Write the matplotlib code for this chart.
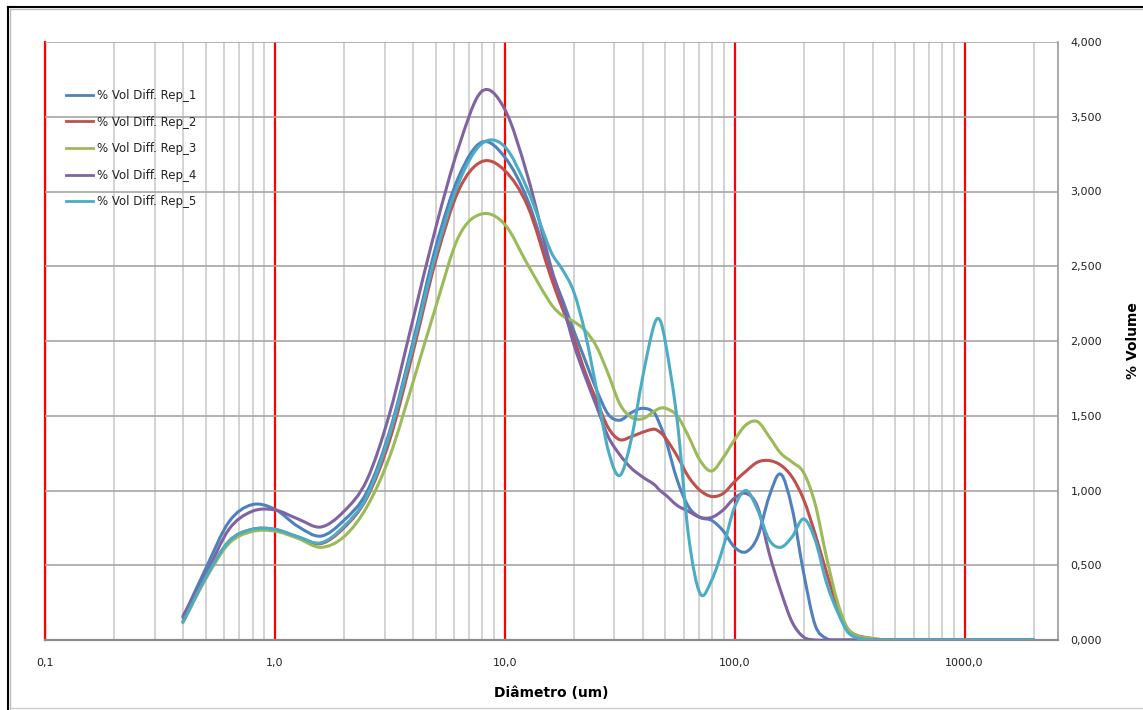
import numpy as np
import matplotlib
matplotlib.use("Agg")
import matplotlib.pyplot as plt
from matplotlib.ticker import FixedLocator, FuncFormatter, NullFormatter, LogLocator
from matplotlib.lines import Line2D
from matplotlib.path import Path
from matplotlib.patches import PathPatch

# particle size classes (um)
diametro = [0.398, 0.501, 0.631, 0.794, 1.0, 1.259, 1.585, 1.995, 2.512, 3.162,
            3.981, 5.012, 6.310, 7.943, 10.0, 12.59, 15.85, 17.78, 19.95,
            22.39, 25.12, 28.18, 31.62, 35.48, 39.81, 44.67, 47.32, 50.12, 56.23,
            63.10, 70.79, 79.43, 89.13, 100.0, 112.2, 125.9, 141.3, 158.5, 177.8,
            199.5, 223.9, 251.2, 281.8, 316.2, 398.1, 501.2, 631.0, 1000.0, 1995.0]

rep_1 = [0.15, 0.48, 0.79, 0.905, 0.875, 0.76, 0.695, 0.80, 0.99, 1.40,
         1.99, 2.63, 3.10, 3.33, 3.23, 2.94, 2.47, 2.28, 2.07,
         1.87, 1.67, 1.51, 1.47, 1.52, 1.55, 1.52, 1.44, 1.34, 1.07,
         0.89, 0.82, 0.80, 0.73, 0.62, 0.59, 0.69, 0.96, 1.11, 0.88,
         0.45, 0.10, 0.01, 0.0, 0.0, 0.0, 0.0, 0.0, 0.0, 0.0]

rep_2 = [0.125, 0.42, 0.66, 0.74, 0.74, 0.69, 0.645, 0.75, 0.95, 1.34,
         1.92, 2.54, 3.01, 3.20, 3.14, 2.90, 2.43, 2.22, 2.02,
         1.79, 1.60, 1.42, 1.34, 1.36, 1.39, 1.41, 1.39, 1.35, 1.23,
         1.09, 1.00, 0.96, 0.98, 1.06, 1.13, 1.19, 1.20, 1.17, 1.09,
         0.94, 0.71, 0.45, 0.21, 0.06, 0.01, 0.0, 0.0, 0.0, 0.0]

rep_3 = [0.115, 0.41, 0.645, 0.725, 0.728, 0.68, 0.62, 0.69, 0.89, 1.23,
         1.72, 2.23, 2.70, 2.85, 2.78, 2.51, 2.25, 2.17, 2.13,
         2.07, 1.96, 1.78, 1.58, 1.49, 1.48, 1.53, 1.55, 1.55, 1.50,
         1.36, 1.20, 1.13, 1.22, 1.34, 1.44, 1.46, 1.36, 1.25, 1.19,
         1.12, 0.91, 0.55, 0.24, 0.06, 0.01, 0.0, 0.0, 0.0, 0.0]

rep_4 = [0.16, 0.44, 0.74, 0.86, 0.87, 0.81, 0.756, 0.86, 1.07, 1.52,
         2.14, 2.76, 3.30, 3.67, 3.55, 3.10, 2.50, 2.26, 1.98,
         1.76, 1.56, 1.36, 1.24, 1.15, 1.09, 1.04, 1.00, 0.97, 0.90,
         0.86, 0.82, 0.82, 0.87, 0.95, 0.98, 0.89, 0.58, 0.33, 0.12,
         0.02, 0.0, 0.0, 0.0, 0.0, 0.0, 0.0, 0.0, 0.0, 0.0]

rep_5 = [0.12, 0.42, 0.66, 0.74, 0.74, 0.69, 0.65, 0.76, 0.96, 1.38,
         1.96, 2.58, 3.06, 3.32, 3.30, 3.01, 2.60, 2.48, 2.33,
         2.05, 1.67, 1.27, 1.10, 1.34, 1.76, 2.11, 2.14, 1.98, 1.47,
         0.69, 0.31, 0.40, 0.62, 0.89, 1.00, 0.87, 0.67, 0.62, 0.69,
         0.81, 0.67, 0.38, 0.18, 0.04, 0.0, 0.0, 0.0, 0.0, 0.0]

series = [rep_1, rep_2, rep_3, rep_4, rep_5]
nomes = ["% Vol Diff. Rep_1", "% Vol Diff. Rep_2", "% Vol Diff. Rep_3",
         "% Vol Diff. Rep_4", "% Vol Diff. Rep_5"]
cores = ["#4F81BD", "#C0504D", "#9BBB59", "#8064A2", "#4BACC6"]

decadas = [0.1, 1, 10, 100, 1000]
rotulos_x = ["0,1", "1,0", "10,0", "100,0", "1000,0"]


def linha_suave(xs, ys):
    # smoothed line through the points: cubic Bezier segments in log-x space
    u = np.log10(xs)
    y = np.asarray(ys, dtype=float)
    n = len(u)
    m = np.zeros(n)
    for i in range(n):
        a, b = max(i - 1, 0), min(i + 1, n - 1)
        m[i] = (y[b] - y[a]) / (u[b] - u[a])
    verts = [(xs[0], y[0])]
    codes = [Path.MOVETO]
    for i in range(n - 1):
        h = u[i + 1] - u[i]
        verts += [(10 ** (u[i] + h / 3), y[i] + m[i] * h / 3),
                  (10 ** (u[i + 1] - h / 3), y[i + 1] - m[i + 1] * h / 3),
                  (xs[i + 1], y[i + 1])]
        codes += [Path.CURVE4] * 3
    return Path(verts, codes)


fig = plt.figure(figsize=(11.43, 7.10), dpi=100)
ax = fig.add_axes([45 / 1143, 1 - 640 / 710, (1058 - 45) / 1143, (640 - 42) / 710])

handles = []
for ys, nome, cor in zip(series, nomes, cores):
    ax.add_patch(PathPatch(linha_suave(diametro, ys), fill=False, edgecolor=cor,
                           lw=2.2, joinstyle="round", capstyle="round", zorder=3))
    handles.append(Line2D([], [], color=cor, lw=2.0, label=nome))

ax.set_xscale("log")
ax.set_xlim(0.1, 2550)
ax.set_ylim(0, 4)

ax.xaxis.set_major_locator(FixedLocator(decadas))
ax.xaxis.set_major_formatter(FuncFormatter(lambda v, p: rotulos_x[decadas.index(v)] if v in decadas else ""))
ax.xaxis.set_minor_locator(LogLocator(base=10, subs=range(2, 10), numticks=20))
ax.xaxis.set_minor_formatter(NullFormatter())

ax.set_yticks([i * 0.5 for i in range(9)])
ax.yaxis.set_major_formatter(FuncFormatter(lambda v, p: f"{v:.3f}".replace(".", ",")))
ax.yaxis.tick_right()
ax.yaxis.set_label_position("right")

ax.tick_params(axis="both", which="both", length=0, labelsize=8, labelcolor="#222222")
ax.tick_params(axis="x", pad=13)
ax.tick_params(axis="y", pad=9)

# grid: red decades, light grey sub-divisions, grey horizontal
ax.grid(which="major", axis="x", color="#FF0000", lw=1.6, zorder=1)
ax.grid(which="minor", axis="x", color="#CCCCCC", lw=1.2, zorder=1)
ax.grid(which="major", axis="y", color="#A6A6A6", lw=1.2, zorder=1)
ax.axvline(0.1, color="#FF0000", lw=1.6, clip_on=False, zorder=1)

for lado in ["left", "top"]:
    ax.spines[lado].set_visible(False)
ax.spines["bottom"].set_color("#8C8C8C")
ax.spines["bottom"].set_linewidth(1.6)
ax.spines["right"].set_color("#999999")
ax.spines["right"].set_linewidth(1.2)

ax.set_xlabel("Diâmetro (um)", fontsize=10, fontweight="bold", labelpad=13)
ax.set_ylabel("% Volume", fontsize=10, fontweight="bold", labelpad=17)

leg = ax.legend(handles=handles, loc="upper left", bbox_to_anchor=(66 / 1143, 1 - 89 / 710),
                bbox_transform=fig.transFigure, frameon=False, fontsize=8.5,
                handlelength=2.3, handletextpad=0.3, labelspacing=1.15,
                borderpad=0, borderaxespad=0)
for t in leg.get_texts():
    t.set_color("#222222")

# outer frame of the chart area
fig.add_artist(Line2D([8 / 1143, 8 / 1143], [0, 1 - 7 / 710], color="black", lw=1.5))
fig.add_artist(Line2D([8 / 1143, 1], [1 - 7 / 710, 1 - 7 / 710], color="black", lw=1.5))
fig.add_artist(Line2D([10 / 1143, 10 / 1143], [0, 1 - 9 / 710], color="#BBBBBB", lw=1))
fig.add_artist(Line2D([10 / 1143, 1], [1 - 9 / 710, 1 - 9 / 710], color="#BBBBBB", lw=1))
fig.add_artist(Line2D([10 / 1143, 1], [1 - 708 / 710, 1 - 708 / 710], color="#CCCCCC", lw=1))

fig.savefig("out.png", dpi=100, facecolor="white")
